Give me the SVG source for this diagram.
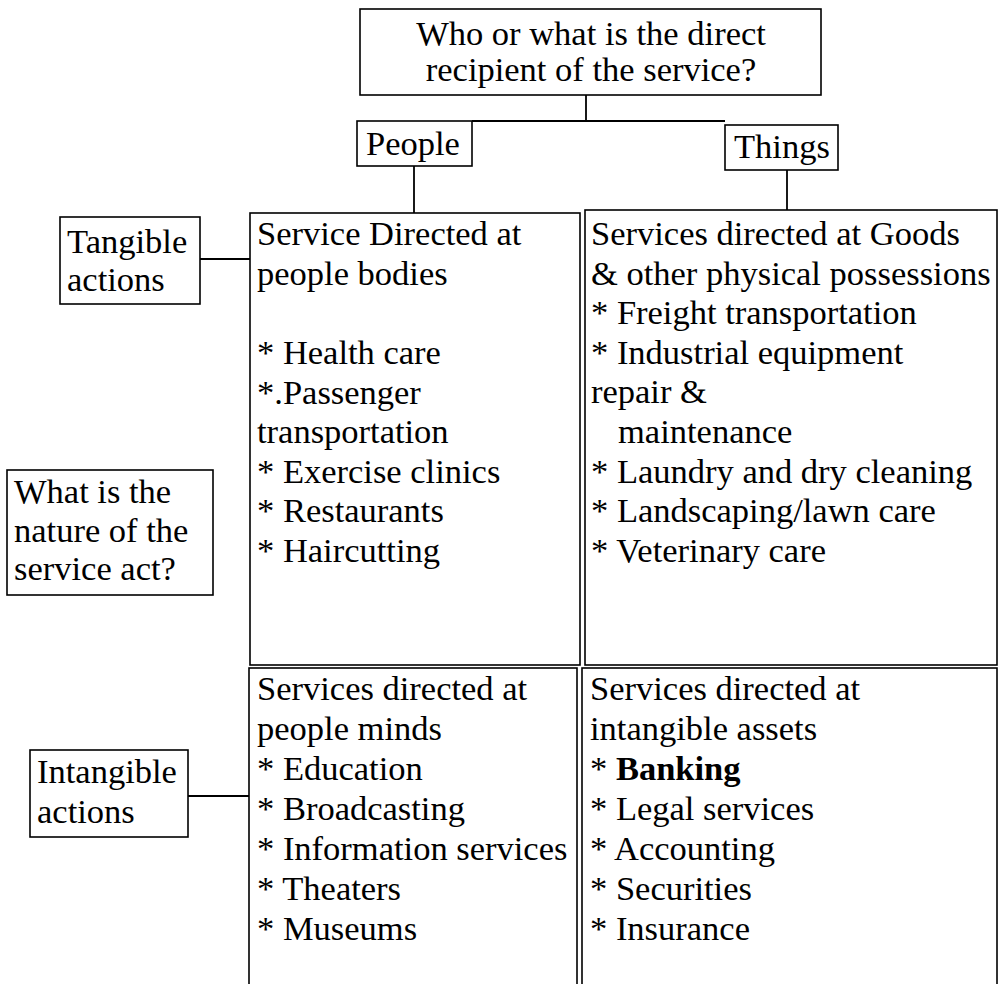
<svg xmlns="http://www.w3.org/2000/svg" width="999" height="984" viewBox="0 0 999 984">
<style>
  .box { fill: #ffffff; stroke: #000000; stroke-width: 1.6; }
  .conn { stroke: #000000; stroke-width: 1.8; fill: none; }
  text { font-family: "Liberation Serif", "Times New Roman", serif; font-size: 34.5px; fill: #000000; }
  .b { font-weight: bold; }
</style>
<rect x="0" y="0" width="999" height="984" fill="#ffffff"/>
<g id="connectors">
  <line class="conn" x1="586" y1="95" x2="586" y2="121"/>
  <line class="conn" x1="472" y1="121" x2="725" y2="121"/>
  <line class="conn" x1="414" y1="166" x2="414" y2="213"/>
  <line class="conn" x1="787" y1="170" x2="787" y2="210"/>
  <line class="conn" x1="200" y1="259" x2="250" y2="259"/>
  <line class="conn" x1="188" y1="796" x2="250" y2="796"/>
</g>
<g id="question-recipient">
  <rect class="box" x="360" y="9" width="461" height="86"/>
  <text x="591" y="45" text-anchor="middle">Who or what is the direct</text>
  <text x="591" y="81" text-anchor="middle">recipient of the service?</text>
</g>
<g id="people">
  <rect class="box" x="357" y="121" width="115" height="45"/>
  <text x="366" y="155">People</text>
</g>
<g id="things">
  <rect class="box" x="725" y="125" width="113" height="45"/>
  <text x="734" y="158">Things</text>
</g>
<g id="tangible">
  <rect class="box" x="60" y="217" width="140" height="87"/>
  <text x="67" y="253">Tangible</text>
  <text x="67" y="291">actions</text>
</g>
<g id="nature-question">
  <rect class="box" x="7" y="470" width="206" height="125"/>
  <text x="14" y="503">What is the</text>
  <text x="14" y="542">nature of the</text>
  <text x="14" y="580">service act?</text>
</g>
<g id="intangible">
  <rect class="box" x="30" y="750" width="158" height="87"/>
  <text x="37" y="783">Intangible</text>
  <text x="37" y="823">actions</text>
</g>
<g id="people-bodies">
  <rect class="box" x="250" y="213" width="330" height="452"/>
  <text x="257" y="245">Service Directed at</text>
  <text x="257" y="285">people bodies</text>
  <text x="257" y="364">* Health care</text>
  <text x="257" y="404">*.Passenger</text>
  <text x="257" y="443">transportation</text>
  <text x="257" y="483">* Exercise clinics</text>
  <text x="257" y="522">* Restaurants</text>
  <text x="257" y="562">* Haircutting</text>
</g>
<g id="goods-possessions">
  <rect class="box" x="585" y="210" width="412" height="455"/>
  <text x="591" y="245">Services directed at Goods</text>
  <text x="591" y="285">&amp; other physical possessions</text>
  <text x="591" y="324">* Freight transportation</text>
  <text x="591" y="364">* Industrial equipment</text>
  <text x="591" y="403">repair &amp;</text>
  <text x="618" y="443">maintenance</text>
  <text x="591" y="483">* Laundry and dry cleaning</text>
  <text x="591" y="522">* Landscaping/lawn care</text>
  <text x="591" y="562">* Veterinary care</text>
</g>
<g id="people-minds">
  <rect class="box" x="249" y="668" width="328" height="330"/>
  <text x="257" y="700">Services directed at</text>
  <text x="257" y="740">people minds</text>
  <text x="257" y="780">* Education</text>
  <text x="257" y="820">* Broadcasting</text>
  <text x="257" y="860">* Information services</text>
  <text x="257" y="900">* Theaters</text>
  <text x="257" y="940">* Museums</text>
</g>
<g id="intangible-assets">
  <rect class="box" x="582" y="668" width="415" height="330"/>
  <text x="590" y="700">Services directed at</text>
  <text x="590" y="740">intangible assets</text>
  <text x="590" y="780">* <tspan class="b">Banking</tspan></text>
  <text x="590" y="820">* Legal services</text>
  <text x="590" y="860">* Accounting</text>
  <text x="590" y="900">* Securities</text>
  <text x="590" y="940">* Insurance</text>
</g>
</svg>
